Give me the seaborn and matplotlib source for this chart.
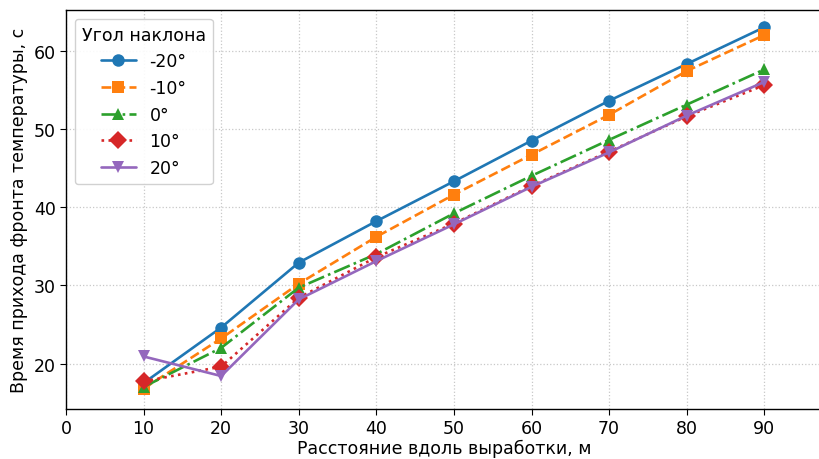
import pandas as pd
import seaborn as sns
import matplotlib
import matplotlib.pyplot as plt
matplotlib.use('Agg')

# Расстояние вдоль выработки, м
distance = [10, 20, 30, 40, 50, 60, 70, 80, 90]

# Время прихода фронта температуры для разных углов наклона
t_m20 = [17.5, 24.6, 32.9, 38.2, 43.3, 48.5, 53.6, 58.3, 63.0]
t_m10 = [16.8, 23.2, 30.2, 36.2, 41.6, 46.7, 51.8, 57.4, 62.0]
t_0 = [17.0, 22.0, 29.7, 34.0, 39.2, 44.0, 48.6, 53.1, 57.6]
t_p10 = [17.7, 19.6, 28.4, 33.6, 37.9, 42.7, 47.1, 51.6, 55.6]
t_p20 = [20.9, 18.4, 28.2, 33.1, 37.8, 42.6, 47.0, 51.7, 56.0]

angles = ["-20°", "-10°", "0°", "10°", "20°"]
series = [t_m20, t_m10, t_0, t_p10, t_p20]

rows = []
for angle, values in zip(angles, series):
    for x, y in zip(distance, values):
        rows.append({"x": x, "y": y, "angle": angle})
df = pd.DataFrame(rows)

sns.set_style("ticks")
plt.rcParams['font.family'] = ['DejaVu Sans']
plt.rcParams.update({'text.color': 'black', 'axes.labelcolor': 'black',
                     'xtick.color': 'black', 'ytick.color': 'black'})

fig, ax = plt.subplots(figsize=(8.2, 4.6), dpi=100)
fig.subplots_adjust(left=0.0805, right=1.003, top=0.976, bottom=0.109)

palette = dict(zip(angles, sns.color_palette("tab10", 5)))
dashes = dict(zip(angles, ["", (3.7, 1.6), (6.4, 1.6, 1, 1.6), (1, 1.65), ""]))
markers = dict(zip(angles, ["o", "s", "^", "D", "v"]))

sns.lineplot(data=df, x="x", y="y", hue="angle", style="angle",
             palette=palette, dashes=dashes, markers=markers,
             markersize=9, linewidth=1.9, markeredgewidth=0, ax=ax)

ax.set_xlim(0, 97.5)
ax.set_ylim(14.2, 65.2)
ax.set_xticks(range(0, 100, 10))
ax.set_yticks([20, 30, 40, 50, 60])
ax.grid(True, linestyle=':', color='#c8c8c8', linewidth=0.9)
ax.tick_params(labelsize=12.5, length=4)

for s in ax.spines.values():
    s.set_color('black')
    s.set_linewidth(1.0)

# подпись оси X прижата к графику, чтобы не обрезалась снизу
ax.set_xlabel("Расстояние вдоль выработки, м", fontsize=12.5, labelpad=1)
ax.set_ylabel("Время прихода фронта температуры, с", fontsize=12.5)

leg = ax.legend(title="Угол наклона", loc="upper left", fontsize=12.5,
                title_fontsize=12.5, framealpha=0.9, edgecolor='#cccccc')

plt.savefig("out.png", dpi=100)
